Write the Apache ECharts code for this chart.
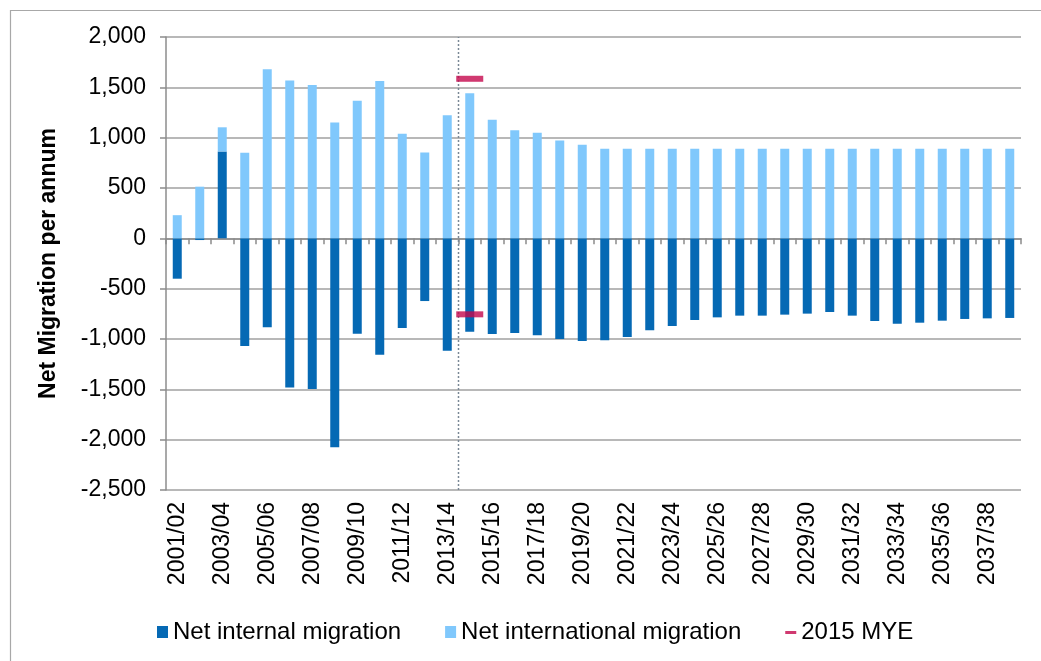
<!DOCTYPE html>
<html lang="en" style="background: #FFFFFF;height: 100%">
<head>
    <meta charset="utf-8" />
    <title>Net migration</title>
    <script src="https://cdn.jsdelivr.net/npm/echarts@6/dist/echarts.min.js"></script>
</head>
<body style="margin: 0;height: 100%">
    <div id="chart" style="width:1041px;height:661px"></div>
    <script>
    const years = ['2001/02', '2002/03', '2003/04', '2004/05', '2005/06', '2006/07', '2007/08', '2008/09', '2009/10', '2010/11',
        '2011/12', '2012/13', '2013/14', '2014/15', '2015/16', '2016/17', '2017/18', '2018/19', '2019/20', '2020/21',
        '2021/22', '2022/23', '2023/24', '2024/25', '2025/26', '2026/27', '2027/28', '2028/29', '2029/30', '2030/31',
        '2031/32', '2032/33', '2033/34', '2034/35', '2035/36', '2036/37', '2037/38', '2038/39']
    const internalMig = [-401, -17, 863, -1070, -884, -1483, -1497, -2076, -947, -1156,
        -891, -623, -1116, -927, -950, -940, -963, -1000, -1020, -1013,
        -980, -914, -871, -811, -785, -768, -768, -758, -748, -732,
        -768, -821, -848, -838, -818, -801, -795, -791]
    const internationalMig = [230, 513, 240, 850, 1680, 1567, 1523, 1150, 1367, 1563,
        1040, 853, 1223, 1440, 1177, 1073, 1050, 973, 930, 890,
        890, 890, 890, 890, 890, 890, 890, 890, 890, 890,
        890, 890, 890, 890, 890, 890, 890, 890]
    // 2015 MYE points (2014/15)
    const mye = [['2014/15', 1585], ['2014/15', -755]]
    const projectionStart = 13 // boundary between 2013/14 and 2014/15
    const yTicks = { min: -2500, max: 2000, step: 500 }

    const font = 'Liberation Sans, Arial, sans-serif'
    const gridColor = '#a0a0a0'
    let chart = echarts.init(document.getElementById('chart'))

    chart.setOption({
        animation: false,
        textStyle: { fontFamily: font, color: '#000' },
        graphic: [{
            type: 'rect', left: 8, top: 8, shape: { width: 1100, height: 700 },
            style: { fill: 'none', stroke: '#a8a8a8', lineWidth: 1.2 }, silent: true
        }],
        grid: { left: 166, right: 20, top: 37, bottom: 171 },
        legend: {
            left: 152, top: 615,
            itemWidth: 11, itemHeight: 12, itemGap: 44,
            textStyle: { fontFamily: font, fontSize: 24, color: '#000' },
            data: [
                { name: 'Net internal migration', icon: 'rect' },
                { name: 'Net international migration', icon: 'rect' },
                { name: '2015 MYE', icon: 'path://M0,0 L0.01,0 M0,5 L11,5 L11,8 L0,8 Z M11,12 L11.01,12' }
            ]
        },
        xAxis: [{
            type: 'category', data: years,
            axisLine: { onZero: true, lineStyle: { color: '#8c8c8c', width: 1.5 } },
            axisTick: { show: true, interval: 0, length: 6, lineStyle: { color: '#8c8c8c', width: 1.5 } },
            axisLabel: { show: false }
        }, {
            type: 'category', data: years, position: 'bottom',
            axisLine: { show: false }, axisTick: { show: false },
            axisLabel: { interval: 1, rotate: 90, margin: 12, fontSize: 23, color: '#000', fontFamily: font }
        }, {
            type: 'value', min: 0, max: years.length, show: false
        }],
        yAxis: {
            type: 'value', min: yTicks.min, max: yTicks.max, interval: yTicks.step,
            name: 'Net Migration per annum', nameLocation: 'middle', nameGap: 106,
            nameTextStyle: { fontFamily: font, fontSize: 23, fontWeight: 'bold', color: '#000' },
            axisLine: { show: true, lineStyle: { color: '#8c8c8c', width: 1.5 } },
            axisTick: { show: true, length: 6, lineStyle: { color: '#8c8c8c', width: 1.5 } },
            axisLabel: {
                margin: 20, fontSize: 23, color: '#000', fontFamily: font,
                formatter: v => v.toLocaleString('en-US')
            },
            splitLine: { lineStyle: { color: gridColor, width: 1.5 } }
        },
        series: [{
            name: 'Net internal migration', type: 'bar', stack: 'mig', barWidth: 9,
            itemStyle: { color: '#0569b4' }, data: internalMig
        }, {
            name: 'Net international migration', type: 'bar', stack: 'mig', barWidth: 9,
            itemStyle: { color: '#80c8fc' }, data: internationalMig
        }, {
            name: 'projection', type: 'line', xAxisIndex: 2, symbol: 'none', z: 5,
            lineStyle: { color: '#7a8896', width: 1.5, type: [2, 2] },
            data: [[projectionStart, yTicks.min], [projectionStart, yTicks.max]]
        }, {
            name: '2015 MYE', type: 'scatter', symbol: 'rect', symbolSize: [27, 6], z: 6,
            itemStyle: { color: '#c4084c' }, data: mye
        }]
    })
    </script>
</body>
</html>
